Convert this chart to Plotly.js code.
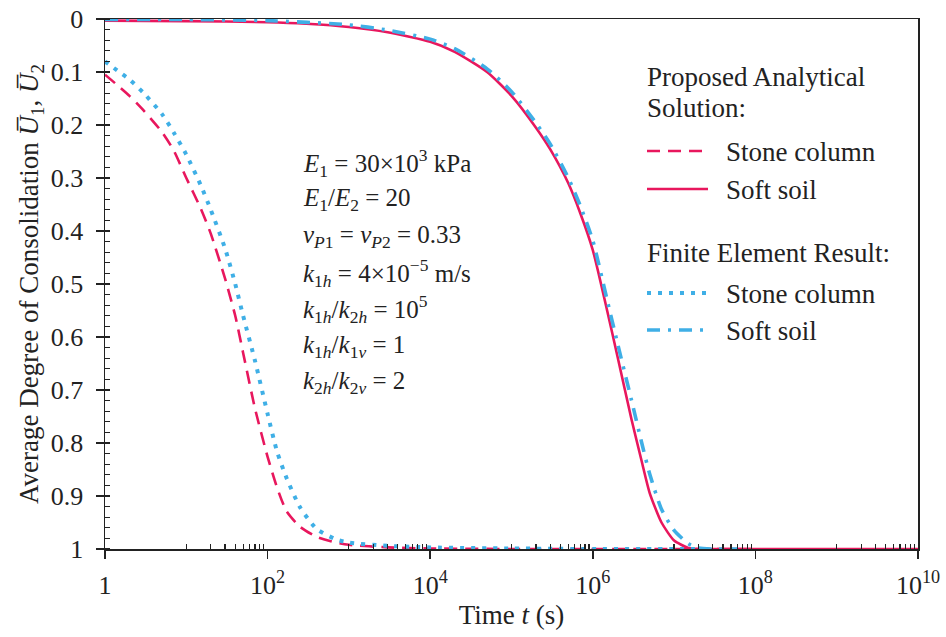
<!DOCTYPE html>
<html>
<head>
<meta charset="utf-8">
<script src="https://cdn.plot.ly/plotly-3.0.1.min.js"></script>
<style>html,body{margin:0;padding:0;background:#fff;}#chart{width:946px;height:637px;}</style>
</head>
<body>
<div id="chart"></div>
<script>
// ---- Data ----
var tAnaStone = [1, 1.5, 2, 3, 5, 7, 10, 15, 20, 30, 40, 50, 70, 100, 130, 170, 250, 400, 700, 1000, 3000, 1e4, 1e5, 1e6, 1e7, 1e8];
var uAnaStone = [0.105, 0.128, 0.145, 0.173, 0.213, 0.248, 0.300, 0.357, 0.405, 0.49, 0.56, 0.63, 0.735, 0.826, 0.883, 0.928, 0.958, 0.977, 0.988, 0.992, 0.997, 0.999, 1.0, 1.0, 1.0, 1.0];

var tAnaSoil = [1, 10, 100, 300, 1000, 3000, 1e4, 2e4, 5e4, 1e5, 2e5, 3e5, 5e5, 7e5, 1e6, 1.5e6, 2e6, 3e6, 4e6, 5e6, 7e6, 1e7, 1.5e7, 2e7, 1e8, 1e10];
var uAnaSoil = [0.003, 0.004, 0.006, 0.009, 0.015, 0.025, 0.043, 0.062, 0.10, 0.145, 0.205, 0.246, 0.31, 0.366, 0.436, 0.55, 0.635, 0.756, 0.835, 0.894, 0.95, 0.984, 0.998, 1.0, 1.0, 1.0];

var tFeStone = [1, 1.5, 2, 3, 5, 7, 10, 15, 20, 30, 40, 50, 70, 100, 130, 170, 250, 400, 700, 1000, 3000, 1e4, 1e5, 1e6, 1e7, 3e7];
var uFeStone = [0.08, 0.10, 0.114, 0.14, 0.179, 0.214, 0.256, 0.313, 0.36, 0.433, 0.50, 0.56, 0.645, 0.745, 0.815, 0.865, 0.921, 0.962, 0.982, 0.988, 0.994, 0.997, 0.999, 1.0, 1.0, 1.0];

var tFeSoil = [1, 10, 100, 1000, 3000, 1e4, 2e4, 5e4, 1e5, 2e5, 3e5, 5e5, 7e5, 1e6, 1.5e6, 2e6, 3e6, 4e6, 5e6, 7e6, 1e7, 1.5e7, 2e7, 3e7, 6e7];
var uFeSoil = [0.001, 0.001, 0.003, 0.011, 0.021, 0.038, 0.056, 0.094, 0.137, 0.196, 0.236, 0.30, 0.352, 0.418, 0.53, 0.61, 0.72, 0.80, 0.858, 0.925, 0.965, 0.99, 0.998, 1.0, 1.0];

var xTickVals = [1, 1e2, 1e4, 1e6, 1e8, 1e10];
var xTickText = ['1', '10<sup>2</sup>', '10<sup>4</sup>', '10<sup>6</sup>', '10<sup>8</sup>', '10<sup>10</sup>'];

var seriesNames = ['Stone column', 'Soft soil', 'Stone column', 'Soft soil'];
var groupTitles = ['Proposed Analytical', 'Solution:', 'Finite Element Result:'];
var paramLines = [
  '<i>E</i><sub>1</sub> = 30×10<sup>3</sup> kPa',
  '<i>E</i><sub>1</sub>/<i>E</i><sub>2</sub> = 20',
  '<i>ν</i><sub><i>P</i>1</sub> = <i>ν</i><sub><i>P</i>2</sub> = 0.33',
  '<i>k</i><sub>1<i>h</i></sub> = 4×10<sup>−5</sup> m/s',
  '<i>k</i><sub>1<i>h</i></sub>/<i>k</i><sub>2<i>h</i></sub> = 10<sup>5</sup>',
  '<i>k</i><sub>1<i>h</i></sub>/<i>k</i><sub>1<i>v</i></sub> = 1',
  '<i>k</i><sub>2<i>h</i></sub>/<i>k</i><sub>2<i>v</i></sub> = 2'
];

// ---- Styling ----
var PINK = '#E8175D';
var BLUE = '#3FAFE6';
var FONT = 'Liberation Serif, Times New Roman, serif';
var INK = '#222222';
var TXT = 27;

var L = 105, R = 918, T = 19, B = 549;
function px(x) { return (x - L) / (R - L); }
function py(y) { return (B - y) / (B - T); }

// minor log ticks: 10..90 within every second decade
var minorX = [];
for (var d = 1; d < 10; d += 2) {
  for (var k = 1; k <= 9; k++) minorX.push(k * Math.pow(10, d));
}

var dashStone = '13px,8px';
var dotFe = '4px,7px';
var dashDotFe = '13px,8px,3px,8px';

var traces = [
  {x: tAnaStone, y: uAnaStone, name: seriesNames[0], mode: 'lines', line: {color: PINK, width: 2.6, dash: dashStone, shape: 'spline', smoothing: 0.6}},
  {x: tAnaSoil, y: uAnaSoil, name: seriesNames[1], mode: 'lines', line: {color: PINK, width: 2.6, shape: 'spline', smoothing: 0.6}},
  {x: tFeStone, y: uFeStone, name: seriesNames[2], mode: 'lines', line: {color: BLUE, width: 4, dash: dotFe, shape: 'spline', smoothing: 0.6}},
  {x: tFeSoil, y: uFeSoil, name: seriesNames[3], mode: 'lines', line: {color: BLUE, width: 3.6, dash: dashDotFe, shape: 'spline', smoothing: 0.6}}
];
traces.forEach(function (t) { t.showlegend = false; t.hoverinfo = 'skip'; });

var annotations = [];
var paramY0 = 163, paramStep = 36.6;
paramLines.forEach(function (txt, i) {
  annotations.push({
    xref: 'paper', yref: 'paper', x: px(301), y: py(paramY0 + i * paramStep),
    xanchor: 'left', yanchor: 'middle', showarrow: false, text: txt,
    font: {family: FONT, size: 25, color: INK}
  });
});

// legend (drawn as annotations + line samples)
var legX = 645, legTextX = 724;
annotations.push({xref: 'paper', yref: 'paper', x: px(legX), y: py(77), xanchor: 'left', yanchor: 'middle', showarrow: false, text: groupTitles[0], font: {family: FONT, size: TXT, color: INK}});
annotations.push({xref: 'paper', yref: 'paper', x: px(legX), y: py(108), xanchor: 'left', yanchor: 'middle', showarrow: false, text: groupTitles[1], font: {family: FONT, size: TXT, color: INK}});
annotations.push({xref: 'paper', yref: 'paper', x: px(legX), y: py(253), xanchor: 'left', yanchor: 'middle', showarrow: false, text: groupTitles[2], font: {family: FONT, size: TXT, color: INK}});
var legRows = [151, 189, 293, 330];
legRows.forEach(function (yy, i) {
  annotations.push({xref: 'paper', yref: 'paper', x: px(legTextX), y: py(yy + 1), xanchor: 'left', yanchor: 'middle', showarrow: false, text: seriesNames[i], font: {family: FONT, size: TXT, color: INK}});
});

var shapes = legRows.map(function (yy, i) {
  var tr = traces[i];
  return {type: 'line', xref: 'paper', yref: 'paper', x0: px(647), x1: px(708), y0: py(yy), y1: py(yy),
          line: {color: tr.line.color, width: tr.line.width, dash: tr.line.dash || 'solid'}};
});

var layout = {
  width: 946, height: 637,
  margin: {l: L, r: 946 - R, t: T, b: 637 - B, pad: 0},
  paper_bgcolor: '#ffffff', plot_bgcolor: '#ffffff',
  font: {family: FONT, size: TXT, color: INK},
  showlegend: false,
  xaxis: {
    type: 'log', range: [0, 10],
    tickmode: 'array', tickvals: xTickVals, ticktext: xTickText,
    ticks: 'outside', ticklen: 8, tickwidth: 1.5, tickcolor: INK,
    showline: true, linecolor: INK, linewidth: 1.5, mirror: true,
    showgrid: false, zeroline: false,
    tickfont: {family: FONT, size: 26, color: INK},
    ticklabelstandoff: 4,
    title: {text: 'Time <i>t</i> (s)', font: {family: FONT, size: TXT, color: INK}, standoff: 6},
    minor: {tickmode: 'array', tickvals: minorX, ticks: 'inside', ticklen: 5, tickwidth: 1.2, tickcolor: INK, showgrid: false}
  },
  yaxis: {
    range: [1, 0], tick0: 0, dtick: 0.1,
    ticks: 'outside', ticklen: 8, tickwidth: 1.5, tickcolor: INK,
    showline: true, linecolor: INK, linewidth: 1.5, mirror: true,
    showgrid: false, zeroline: false,
    tickfont: {family: FONT, size: 26, color: INK},
    ticklabelstandoff: 7,
    title: {text: 'Average Degree of Consolidation <i>U\u0305</i><sub>1</sub>, <i>U\u0305</i><sub>2</sub>', font: {family: FONT, size: TXT, color: INK}, standoff: 4},
    minor: {dtick: 0.02, ticks: 'inside', ticklen: 5, tickwidth: 1.2, tickcolor: INK, showgrid: false}
  },
  annotations: annotations,
  shapes: shapes
};

Plotly.newPlot('chart', traces, layout, {staticPlot: true, displayModeBar: false});
</script>
</body>
</html>
